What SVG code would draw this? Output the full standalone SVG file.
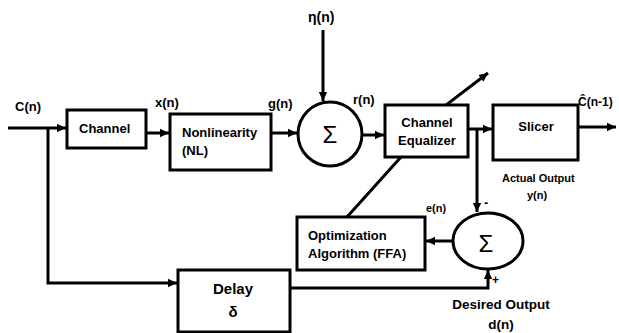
<svg xmlns="http://www.w3.org/2000/svg" width="619" height="333" viewBox="0 0 619 333">
<defs>
<marker id="ah" markerUnits="userSpaceOnUse" markerWidth="10" markerHeight="10" refX="9" refY="5" orient="auto">
<path d="M0,0.8 L9,5 L0,9.2 Z" fill="#000"/>
</marker>
<style>
.box{fill:#fff;stroke:#000;stroke-width:3}
.sum{fill:#fff;stroke:#000;stroke-width:3}
.ln{fill:none;stroke:#000;stroke-width:3}
.ar{fill:none;stroke:#000;stroke-width:3;marker-end:url(#ah)}
text{font-family:"Liberation Sans",Arial,sans-serif;font-weight:bold;fill:#000}
.sg{font-weight:normal;font-size:24px}
</style>
</defs>
<rect width="619" height="333" fill="#fff"/>
<g id="connectors">
<path class="ar" d="M8,128 H66"/>
<path class="ar" d="M48,128 V283 H177"/>
<path class="ar" d="M146,133 H169"/>
<path class="ar" d="M271,133 H297"/>
<path class="ar" d="M323,30 V101"/>
<path class="ar" d="M362,135 H384"/>
<path class="ar" d="M468,129 H492"/>
<path class="ar" d="M578,127 H616"/>
<path class="ar" d="M477,129 V212"/>
<path class="ar" d="M453,241 H426"/>
<path class="ar" d="M290,288 H488 V270"/>
<path class="ar" d="M347,217 L401,157 L446,105 L488,73"/>
</g>
<g id="channel">
<rect class="box" x="67" y="110" width="79" height="38"/>
<text x="79" y="133" font-size="13">Channel</text>
</g>
<g id="nonlinearity">
<rect class="box" x="170" y="114" width="101" height="56"/>
<text x="182" y="137" font-size="13">Nonlinearity</text>
<text x="182" y="155" font-size="13">(NL)</text>
</g>
<g id="sum1">
<ellipse class="sum" cx="330" cy="134" rx="32" ry="32"/>
<text class="sg" x="330" y="143" text-anchor="middle">Σ</text>
</g>
<g id="equalizer">
<rect class="box" x="385" y="105" width="83" height="52"/>
<text x="427" y="127" font-size="13" text-anchor="middle">Channel</text>
<text x="427" y="145" font-size="13" text-anchor="middle">Equalizer</text>
</g>
<g id="slicer">
<rect class="box" x="493" y="105" width="85" height="55"/>
<text x="536" y="131" font-size="13" text-anchor="middle">Slicer</text>
</g>
<g id="optimization">
<rect class="box" x="297" y="217" width="128" height="53"/>
<text x="308" y="240" font-size="13">Optimization</text>
<text x="308" y="258" font-size="13">Algorithm (FFA)</text>
</g>
<g id="sum2">
<ellipse class="sum" cx="488" cy="241" rx="35" ry="28"/>
<text class="sg" x="486" y="252" text-anchor="middle">Σ</text>
</g>
<g id="delay">
<rect class="box" x="178" y="270" width="112" height="62"/>
<text x="233" y="294" font-size="15" text-anchor="middle">Delay</text>
<text x="233" y="317" font-size="15" text-anchor="middle">δ</text>
</g>
<g id="labels">
<text x="15" y="111" font-size="13">C(n)</text>
<text x="155" y="107" font-size="13">x(n)</text>
<text x="268" y="108" font-size="13">g(n)</text>
<text x="353" y="104" font-size="13">r(n)</text>
<text x="308" y="22" font-size="14">η(n)</text>
<text x="578" y="106" font-size="12">Ĉ(n-1)</text>
<text x="502" y="182" font-size="11">Actual Output</text>
<text x="537" y="199" font-size="11" text-anchor="middle">y(n)</text>
<text x="426" y="212" font-size="11">e(n)</text>
<text x="484" y="207" font-size="13">-</text>
<text x="492" y="284" font-size="12">+</text>
<text x="501" y="309" font-size="13.5" text-anchor="middle">Desired Output</text>
<text x="501" y="329" font-size="13.5" text-anchor="middle">d(n)</text>
</g>
</svg>
